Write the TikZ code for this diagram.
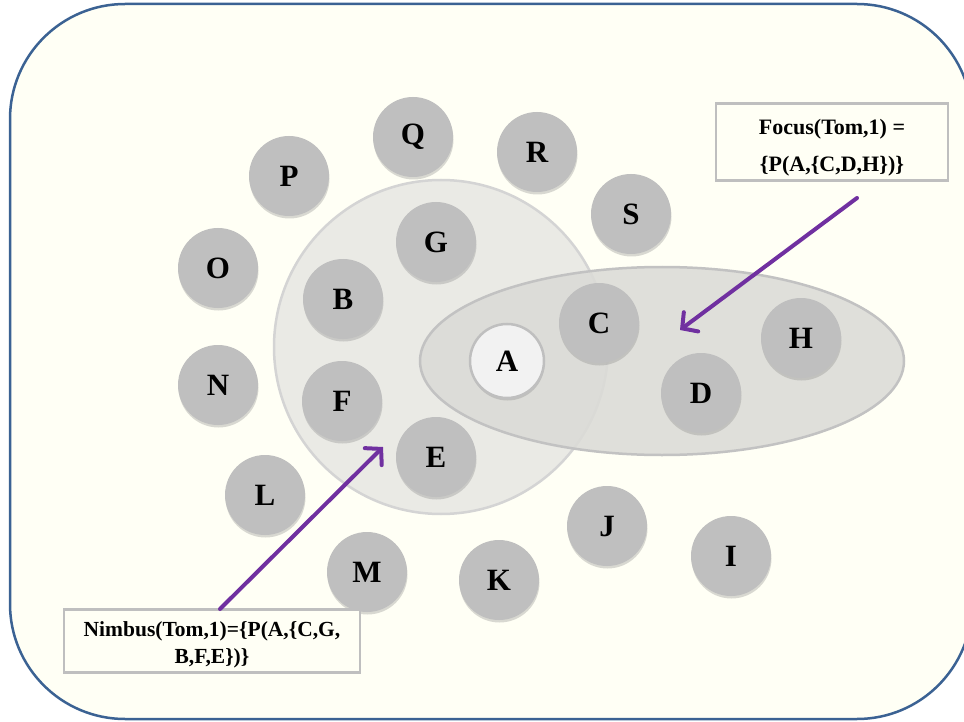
\documentclass[tikz,border=0pt]{standalone}
\usepackage{fontspec}
\setmainfont{Liberation Serif}
\usetikzlibrary{arrows.meta, shadows}

\definecolor{frameblue}{HTML}{3B6293}
\definecolor{paper}{HTML}{FFFFF5}
\definecolor{membergray}{HTML}{BFBFBF}
\definecolor{selfwhite}{HTML}{F2F2F2}
\definecolor{boxgray}{HTML}{BFBFBF}
\definecolor{nimbusgray}{HTML}{EAEAE5}
\definecolor{focusgray}{HTML}{DBDBD7}
\definecolor{awarepurple}{HTML}{7030A0}

\tikzset{
  member/.style={circle, fill=membergray, minimum size=80pt, inner sep=0pt,
    font=\fontsize{31}{31}\selectfont\bfseries,
    drop shadow={opacity=0.3, shadow xshift=0.5pt, shadow yshift=-2.5pt}},
  selfnode/.style={member, fill=selfwhite, draw=membergray, line width=2.5pt},
  notebox/.style={draw=boxgray, line width=2.5pt, fill=paper},
  notetext/.style 2 args={align=center, font=\fontsize{#1}{#2}\selectfont\bfseries},
  aware/.style={draw=awarepurple, line width=4pt, line cap=round,
    -{Straight Barb[length=11pt,width=24pt,line cap=round]}}
}

\begin{document}
\begin{tikzpicture}[x=1pt,y=-1pt]
\useasboundingbox (0,0) rectangle (964,722);
\draw[frameblue, fill=paper, line width=2.5pt, rounded corners=115pt] (10,4) rectangle (972,719);

% nimbus and focus areas
\filldraw[fill=nimbusgray, draw=black!17, line width=2.5pt] (441,347) circle (167);
\filldraw[fill=focusgray, fill opacity=0.88, draw=black!24, line width=2.5pt] (662,361) ellipse (242 and 94);

% members of the space
\node[member] (nQ) at (413,137) {Q};
\node[member] (nR) at (537,152) {R};
\node[member] (nP) at (289,176) {P};
\node[member] (nS) at (631,214) {S};
\node[member] (nG) at (436,242) {G};
\node[member] (nO) at (218,268) {O};
\node[member] (nB) at (343,299) {B};
\node[member] (nC) at (599,323) {C};
\node[member] (nH) at (801,338) {H};
\node[member] (nN) at (218,385) {N};
\node[member] (nF) at (342,401) {F};
\node[member] (nD) at (701,393) {D};
\node[member] (nE) at (436,457) {E};
\node[member] (nL) at (265,495) {L};
\node[member] (nJ) at (607,526) {J};
\node[member] (nI) at (731,556) {I};
\node[member] (nM) at (367,572) {M};
\node[member] (nK) at (499,580) {K};
\node[selfnode, minimum size=74pt] (nA) at (507,361) {A};

% labels
\node[notebox, minimum width=232pt, minimum height=77pt] (focus) at (832,142) {};
\node[notetext={22}{37}] (focustext) at (832,148)
  {Focus(Tom,1) =\\\{P(A,\{C,D,H\})\}};
\node[notebox, minimum width=296pt, minimum height=63pt] (nimbus) at (212,641) {};
\node[notetext={21.5}{27}] (nimbustext) at (212,645)
  {Nimbus(Tom,1)=\{P(A,\{C,G,\\B,F,E\})\}};

\coordinate (focustail) at (857,198);
\coordinate (focustip) at (680,330);
\coordinate (nimbustail) at (220,609);
\coordinate (nimbustip) at (383,447);
\draw[aware] (focustail) -- (focustip);
\draw[aware] (nimbustail) -- (nimbustip);
\end{tikzpicture}
\end{document}
